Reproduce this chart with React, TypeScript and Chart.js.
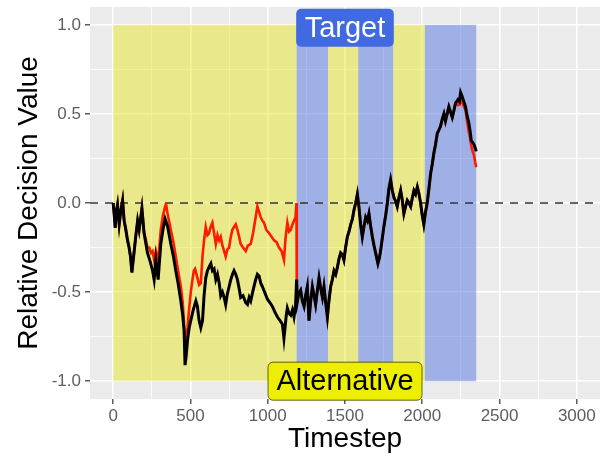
import React, { useEffect, useRef } from "react";
import { Chart, registerables } from "chart.js";

Chart.register(...registerables);

// ---------- data ----------
const xTickValues = [0, 250, 500, 750, 1000, 1250, 1500, 1750, 2000, 2250, 2500, 2750, 3000];
const yTickValues = [-1, -0.75, -0.5, -0.25, 0, 0.25, 0.5, 0.75, 1];

const regionStarts = [0, 1187, 1390, 1586, 1812, 2017];
const regionEnds = [1187, 1390, 1586, 1812, 2017, 2349];
const regionKinds = ["Alternative", "Target", "Alternative", "Target", "Alternative", "Target"];
const regionLow = -1;
const regionHigh = 1;

const labelTexts = ["Target", "Alternative"];
const labelX = [1500, 1500];
const labelY = [1, -1];

const blackSteps = [
  0, 8, 13, 20, 28, 39, 50, 61, 71, 82, 93, 103, 112, 121, 136, 147, 158, 168, 186, 200,
  210, 222, 240, 255, 265, 276, 291, 308, 322, 336, 352, 373, 390, 405, 420, 438, 450, 459, 465, 472,
  481, 492, 502, 518, 535, 545, 556, 567, 578, 588, 599, 610, 620, 632, 642, 653, 664, 675, 686, 696,
  707, 718, 728, 739, 750, 761, 772, 782, 793, 804, 815, 825, 840, 858, 869, 880, 890, 905, 922, 933,
  944, 955, 966, 980, 998, 1015, 1030, 1045, 1063, 1080, 1095, 1105, 1112, 1120, 1127, 1138, 1149, 1160, 1170, 1180,
  1187, 1192, 1200, 1213, 1224, 1235, 1245, 1256, 1267, 1278, 1289, 1300, 1310, 1320, 1332, 1343, 1354, 1364, 1375, 1386,
  1396, 1407, 1418, 1429, 1440, 1451, 1462, 1472, 1483, 1493, 1504, 1515, 1526, 1537, 1548, 1558, 1569, 1580, 1590, 1601,
  1612, 1623, 1634, 1645, 1655, 1666, 1677, 1688, 1698, 1713, 1722, 1730, 1741, 1752, 1763, 1774, 1784, 1795, 1806, 1817,
  1828, 1838, 1849, 1860, 1870, 1881, 1892, 1903, 1914, 1925, 1936, 1946, 1957, 1968, 1979, 1989, 2000, 2010, 2021, 2032,
  2043, 2054, 2065, 2075, 2086, 2097, 2108, 2118, 2129, 2140, 2150, 2161, 2172, 2183, 2194, 2205, 2215, 2230, 2240, 2248,
  2257, 2265, 2280, 2290, 2301, 2310, 2317, 2326, 2334, 2342, 2349,
];
const blackValues = [
  0, -0.08, -0.14, -0.05, -0.01, -0.12, -0.04, 0.015, -0.1, -0.15, -0.21, -0.25, -0.3, -0.39, -0.27, -0.18, -0.1, -0.15, -0.03, -0.17,
  -0.22, -0.28, -0.33, -0.38, -0.43, -0.32, -0.43, -0.23, -0.15, -0.09, -0.13, -0.23, -0.3, -0.38, -0.45, -0.55, -0.63, -0.72, -0.91, -0.86,
  -0.77, -0.7, -0.66, -0.6, -0.55, -0.58, -0.66, -0.7, -0.66, -0.52, -0.42, -0.38, -0.36, -0.34, -0.38, -0.37, -0.43, -0.4, -0.45, -0.52,
  -0.5, -0.53, -0.57, -0.51, -0.47, -0.43, -0.4, -0.38, -0.4, -0.43, -0.48, -0.53, -0.52, -0.56, -0.57, -0.53, -0.55, -0.49, -0.43, -0.4,
  -0.41, -0.45, -0.47, -0.5, -0.54, -0.56, -0.58, -0.61, -0.64, -0.66, -0.68, -0.76, -0.7, -0.63, -0.59, -0.62, -0.63, -0.6, -0.64, -0.58,
  -0.43, -0.55, -0.51, -0.49, -0.55, -0.58, -0.52, -0.47, -0.66, -0.55, -0.47, -0.52, -0.57, -0.5, -0.42, -0.48, -0.53, -0.47, -0.56, -0.64,
  -0.55, -0.47, -0.43, -0.38, -0.4, -0.36, -0.31, -0.28, -0.29, -0.32, -0.25, -0.19, -0.16, -0.12, -0.09, -0.04, 0, 0.05, -0.02, -0.12,
  -0.19, -0.13, -0.08, -0.1, -0.06, -0.13, -0.19, -0.24, -0.28, -0.34, -0.31, -0.27, -0.2, -0.13, -0.07, 0, 0.08, 0.13, 0.07, 0.03,
  0.01, -0.02, 0.03, 0.07, 0.02, -0.06, -0.02, 0.015, 0, -0.02, 0.03, 0.07, 0.05, 0.09, 0.05, 0, -0.07, -0.12, -0.05, 0,
  0.08, 0.165, 0.22, 0.28, 0.33, 0.39, 0.41, 0.43, 0.47, 0.5, 0.46, 0.5, 0.54, 0.51, 0.48, 0.52, 0.56, 0.58, 0.57, 0.62,
  0.6, 0.58, 0.54, 0.49, 0.45, 0.4, 0.35, 0.34, 0.33, 0.31, 0.29,
];

const redSteps = [
  0, 8, 13, 20, 28, 39, 50, 61, 71, 82, 93, 103, 112, 121, 136, 147, 158, 168, 186, 200,
  210, 222, 233, 245, 255, 265, 276, 291, 308, 322, 336, 341, 352, 373, 390, 405, 420, 438, 450, 459,
  465, 470, 481, 491, 502, 513, 522, 530, 545, 556, 567, 578, 588, 599, 610, 620, 632, 642, 653, 664,
  675, 686, 696, 707, 718, 728, 739, 750, 761, 771, 782, 793, 804, 815, 825, 840, 858, 870, 890, 905,
  922, 933, 944, 955, 966, 976, 990, 1009, 1025, 1041, 1057, 1073, 1090, 1105, 1115, 1127, 1138, 1149, 1160, 1170,
  1180, 1186, 1188, 1192, 1200, 1213, 1224, 1235, 1245, 1256, 1267, 1278, 1289, 1300, 1310, 1320, 1332, 1343, 1354, 1364,
  1375, 1386, 1396, 1407, 1418, 1429, 1440, 1451, 1462, 1472, 1483, 1493, 1504, 1515, 1526, 1537, 1548, 1558, 1569, 1580,
  1590, 1601, 1612, 1623, 1634, 1645, 1655, 1666, 1677, 1688, 1698, 1713, 1722, 1730, 1741, 1752, 1763, 1774, 1784, 1795,
  1806, 1817, 1828, 1838, 1849, 1860, 1870, 1881, 1892, 1903, 1914, 1925, 1936, 1946, 1957, 1968, 1979, 1989, 2000, 2010,
  2021, 2032, 2043, 2054, 2065, 2075, 2086, 2097, 2108, 2118, 2129, 2140, 2150, 2161, 2172, 2183, 2194, 2205, 2215, 2230,
  2240, 2248, 2257, 2265, 2280, 2290, 2301, 2310, 2317, 2326, 2334, 2342, 2349,
];
const redValues = [
  0, -0.08, -0.14, -0.05, -0.01, -0.12, -0.04, 0.015, -0.1, -0.15, -0.21, -0.25, -0.3, -0.39, -0.27, -0.18, -0.1, -0.15, -0.03, -0.17,
  -0.2, -0.25, -0.25, -0.28, -0.27, -0.32, -0.27, -0.33, -0.15, -0.07, -0.02, 0, -0.06, -0.15, -0.22, -0.3, -0.38, -0.47, -0.56, -0.68,
  -0.78, -0.77, -0.7, -0.6, -0.5, -0.43, -0.38, -0.37, -0.42, -0.46, -0.45, -0.3, -0.21, -0.135, -0.18, -0.17, -0.13, -0.11, -0.17, -0.23,
  -0.18, -0.21, -0.19, -0.24, -0.27, -0.3, -0.26, -0.25, -0.19, -0.15, -0.135, -0.12, -0.15, -0.19, -0.23, -0.25, -0.27, -0.24, -0.23, -0.17,
  -0.08, -0.02, -0.05, -0.08, -0.1, -0.11, -0.15, -0.17, -0.19, -0.21, -0.22, -0.25, -0.27, -0.32, -0.2, -0.11, -0.16, -0.15, -0.12, -0.1,
  -0.08, 0, -0.49, -0.55, -0.51, -0.49, -0.55, -0.58, -0.52, -0.47, -0.66, -0.55, -0.47, -0.52, -0.57, -0.5, -0.42, -0.48, -0.53, -0.47,
  -0.56, -0.64, -0.55, -0.47, -0.43, -0.38, -0.4, -0.36, -0.31, -0.28, -0.29, -0.32, -0.25, -0.19, -0.16, -0.12, -0.09, -0.04, 0, 0.05,
  -0.02, -0.12, -0.19, -0.13, -0.08, -0.1, -0.06, -0.13, -0.19, -0.24, -0.28, -0.34, -0.31, -0.27, -0.2, -0.13, -0.07, 0, 0.08, 0.13,
  0.07, 0.03, 0.01, -0.02, 0.03, 0.07, 0.02, -0.06, -0.02, 0.015, 0, -0.02, 0.03, 0.07, 0.05, 0.09, 0.05, 0, -0.07, -0.12,
  -0.05, 0, 0.08, 0.165, 0.22, 0.28, 0.33, 0.39, 0.41, 0.43, 0.47, 0.5, 0.46, 0.5, 0.54, 0.51, 0.48, 0.52, 0.56, 0.55,
  0.55, 0.58, 0.57, 0.55, 0.52, 0.46, 0.4, 0.36, 0.32, 0.29, 0.27, 0.23, 0.2,
];

// ---------- styling ----------
const FONT = "'Liberation Sans', Arial, Helvetica, sans-serif";
const PANEL_BG = "#EBEBEB";
const ALT_FILL = "rgba(230,228,20,0.45)";
const TGT_FILL = "rgba(65,105,225,0.45)";

const ggplotPlugin = {
  id: "ggplotDecor",
  beforeDraw(chart: any) {
    const { ctx, chartArea: a } = chart;
    ctx.save();
    ctx.fillStyle = PANEL_BG;
    ctx.fillRect(a.left, a.top, a.right - a.left, a.bottom - a.top);
    ctx.restore();
  },
  beforeDatasetsDraw(chart: any) {
    const { ctx, chartArea: a, scales } = chart;
    const xs = scales.x;
    const ys = scales.y;
    ctx.save();
    for (let i = 0; i < regionStarts.length; i++) {
      const x0 = xs.getPixelForValue(regionStarts[i]);
      const x1 = xs.getPixelForValue(regionEnds[i]);
      const y0 = ys.getPixelForValue(regionHigh);
      const y1 = ys.getPixelForValue(regionLow);
      ctx.fillStyle = regionKinds[i] === "Target" ? TGT_FILL : ALT_FILL;
      ctx.fillRect(x0, y0, x1 - x0, y1 - y0);
    }
    const yz = ys.getPixelForValue(0);
    ctx.strokeStyle = "#333333";
    ctx.lineWidth = 1.6;
    ctx.setLineDash([8, 7]);
    ctx.beginPath();
    ctx.moveTo(a.left, yz);
    ctx.lineTo(a.right, yz);
    ctx.stroke();
    ctx.restore();
  },
  afterDatasetsDraw(chart: any) {
    const { ctx, scales } = chart;
    ctx.save();
    ctx.font = `29px ${FONT}`;
    for (let i = 0; i < labelTexts.length; i++) {
      const text = labelTexts[i];
      const isTarget = text === "Target";
      const cx = scales.x.getPixelForValue(labelX[i]);
      const cy = scales.y.getPixelForValue(labelY[i]) + (isTarget ? 3 : 0);
      const w = ctx.measureText(text).width + 17;
      const h = 38;
      const x = cx - w / 2;
      const y = cy - h / 2;
      ctx.beginPath();
      ctx.roundRect(x, y, w, h, 5);
      ctx.fillStyle = isTarget ? "#4169E1" : "#EEEE00";
      ctx.fill();
      if (!isTarget) {
        ctx.lineWidth = 1;
        ctx.strokeStyle = "rgba(60,60,0,0.8)";
        ctx.stroke();
      }
      ctx.fillStyle = isTarget ? "#FFFFFF" : "#000000";
      ctx.textAlign = "center";
      ctx.textBaseline = "middle";
      ctx.fillText(text, cx, cy + 1);
    }
    ctx.restore();
  },
};

function toPoints(steps: number[], values: number[]) {
  return steps.map((s, i) => ({ x: s, y: values[i] }));
}

export default function App() {
  const canvasRef = useRef<HTMLCanvasElement | null>(null);

  useEffect(() => {
    if (!canvasRef.current) return;
    Chart.defaults.font.family = FONT;
    const chart = new Chart(canvasRef.current, {
      type: "line",
      data: {
        datasets: [
          {
            label: "black",
            data: toPoints(blackSteps, blackValues),
            borderColor: "#000000",
            borderWidth: 3,
            pointRadius: 0,
            tension: 0,
          },
          {
            label: "red",
            data: toPoints(redSteps, redValues),
            borderColor: "#FF1A00",
            borderWidth: 2.6,
            pointRadius: 0,
            tension: 0,
          },
        ],
      },
      options: {
        animation: false,
        responsive: true,
        maintainAspectRatio: false,
        layout: { padding: { top: 7, right: 10, left: 0, bottom: 0 } },
        plugins: { legend: { display: false }, tooltip: { enabled: false } },
        scales: {
          x: {
            type: "linear",
            min: -150,
            max: 3150,
            afterBuildTicks: (scale: any) => {
              scale.ticks = xTickValues.map((v) => ({ value: v }));
            },
            afterFit: (scale: any) => {
              scale.height = 57;
              scale.paddingLeft = 0;
              scale.paddingRight = 0;
            },
            grid: {
              color: "#FFFFFF",
              lineWidth: (c: any) => (c.tick && c.tick.value % 500 === 0 ? 1.6 : 0.8),
              tickColor: (c: any) => (c.tick && c.tick.value % 500 === 0 ? "#333333" : "rgba(0,0,0,0)"),
              tickLength: 5,
              tickWidth: 1.2,
              drawTicks: true,
            },
            border: { display: false },
            ticks: {
              autoSkip: false,
              maxRotation: 0,
              padding: 2,
              color: "#5E5E5E",
              font: { size: 17 },
              callback: (v: any) => (Number(v) % 500 === 0 ? String(v) : ""),
            },
            title: {
              display: true,
              text: "Timestep",
              color: "#000000",
              font: { size: 28 },
              padding: { top: 0, bottom: 0 },
            },
          },
          y: {
            type: "linear",
            min: -1.1,
            max: 1.1,
            afterBuildTicks: (scale: any) => {
              scale.ticks = yTickValues.map((v) => ({ value: v }));
            },
            afterFit: (scale: any) => {
              scale.width = 90;
              scale.paddingTop = 0;
              scale.paddingBottom = 0;
            },
            grid: {
              color: "#FFFFFF",
              lineWidth: (c: any) =>
                c.tick && Math.abs((c.tick.value * 2) % 1) < 1e-9 ? 1.6 : 0.8,
              tickColor: (c: any) =>
                c.tick && Math.abs((c.tick.value * 2) % 1) < 1e-9 ? "#333333" : "rgba(0,0,0,0)",
              tickLength: 5,
              tickWidth: 1.2,
              drawTicks: true,
            },
            border: { display: false },
            ticks: {
              autoSkip: false,
              padding: 4,
              color: "#5E5E5E",
              font: { size: 17 },
              callback: (v: any) => {
                const n = Number(v);
                return Math.abs((n * 2) % 1) < 1e-9 ? n.toFixed(1) : "";
              },
            },
            title: {
              display: true,
              text: "Relative Decision Value",
              color: "#000000",
              font: { size: 28 },
              padding: { top: 12, bottom: 0 },
            },
          },
        },
      },
      plugins: [ggplotPlugin],
    });
    return () => chart.destroy();
  }, []);

  return (
    <div style={{ position: "fixed", left: 0, top: 0, width: 610, height: 456, background: "#FFFFFF" }}>
      <canvas ref={canvasRef} />
    </div>
  );
}
